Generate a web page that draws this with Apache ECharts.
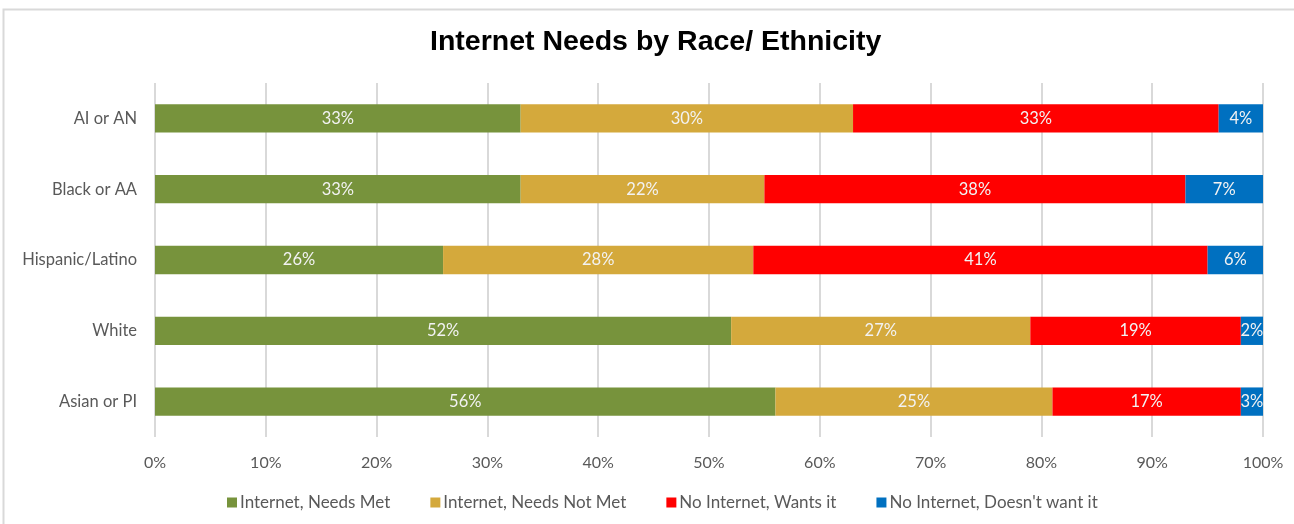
<!DOCTYPE html>
<html>
<head>
<meta charset="utf-8">
<script src="https://cdn.jsdelivr.net/npm/echarts@6/dist/echarts.min.js"></script>
<style>
  html, body { margin: 0; padding: 0; background: #fff; }
  #chart { width: 1294px; height: 524px; }
</style>
</head>
<body>
<div id="chart"></div>
<script>
// Groups, top to bottom as drawn
const categories = ['AI or AN', 'Black or AA', 'Hispanic/Latino', 'White', 'Asian or PI'];

// Share of each group (percent)
const needsMet     = [33, 33, 26, 52, 56];
const needsNotMet  = [30, 22, 28, 27, 25];
const wantsIt      = [33, 38, 41, 19, 17];
const doesntWantIt = [4, 7, 6, 2, 3];

const seriesNames = [
  'Internet, Needs Met',
  'Internet, Needs Not Met',
  'No Internet, Wants it',
  "No Internet, Doesn't want it"
];
const seriesColors = ['#77933C', '#D4A93C', '#FF0000', '#0070C0'];
const seriesData = [needsMet, needsNotMet, wantsIt, doesntWantIt];

const xTicks = [0, 10, 20, 30, 40, 50, 60, 70, 80, 90, 100];

const FONT = 'Lato, "Liberation Sans", sans-serif';

const chart = echarts.init(document.getElementById('chart'));

chart.setOption({
  backgroundColor: '#ffffff',
  animation: false,
  title: {
    text: 'Internet Needs by Race/ Ethnicity',
    left: 425,
    top: 23,
    textStyle: {
      fontFamily: '"Liberation Sans", Arial, sans-serif',
      fontWeight: 'bold',
      fontSize: 28.5,
      color: '#000000'
    }
  },
  graphic: [{
    type: 'rect',
    shape: { x: 3.5, y: 9.5, width: 1300, height: 530 },
    style: { fill: 'none', stroke: '#D9D9D9', lineWidth: 2 },
    silent: true,
    z: -1
  }],
  legend: {
    bottom: 8,
    left: 222,
    itemWidth: 10,
    itemHeight: 10,
    itemGap: 40,
    icon: 'rect',
    textStyle: { fontFamily: FONT, fontSize: 17, color: '#595959', padding: [0, 0, 0, -2] },
    data: seriesNames
  },
  grid: { left: 155, right: 31, top: 83, bottom: 87 },
  xAxis: {
    type: 'value',
    min: xTicks[0],
    max: xTicks[xTicks.length - 1],
    interval: 10,
    axisLine: { show: false },
    axisTick: { show: false },
    splitLine: { show: true, lineStyle: { color: '#D9D9D9', width: 2 } },
    axisLabel: {
      fontFamily: FONT,
      fontSize: 16,
      color: '#595959',
      margin: 18,
      formatter: v => v + '%'
    }
  },
  yAxis: {
    type: 'category',
    inverse: true,
    data: categories,
    axisLine: { show: false },
    axisTick: { show: false },
    axisLabel: {
      fontFamily: FONT,
      fontSize: 16.5,
      color: '#595959',
      margin: 18
    }
  },
  series: seriesNames.map((name, i) => ({
    name,
    type: 'bar',
    stack: 'total',
    barWidth: '40%',
    clip: true,
    data: seriesData[i],
    itemStyle: { color: seriesColors[i] },
    label: {
      show: true,
      position: 'inside',
      fontFamily: FONT,
      fontSize: 16.5,
      color: '#F2F2F2',
      formatter: p => p.value + '%'
    }
  }))
});
</script>
</body>
</html>
